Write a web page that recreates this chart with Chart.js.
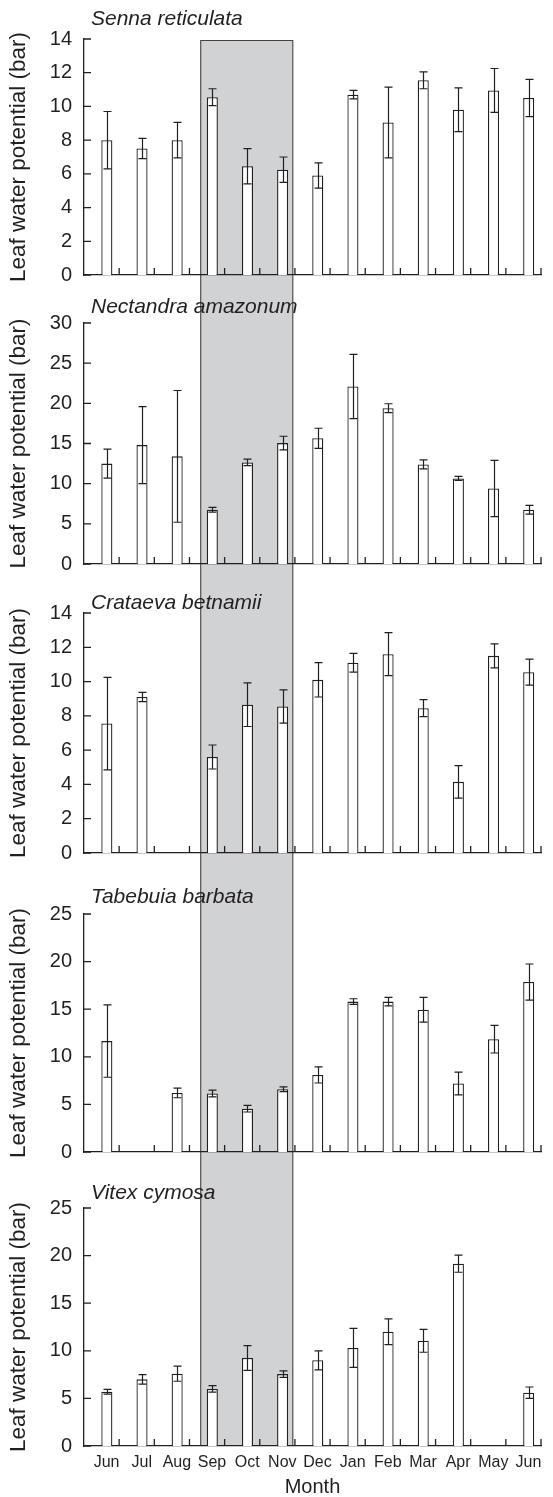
<!DOCTYPE html>
<html>
<head>
<meta charset="utf-8">
<style>
  html, body { margin: 0; padding: 0; background: #fff; }
  #wrap { position: relative; width: 553px; height: 1497px; overflow: hidden; }
  #wrap canvas { position: absolute; left: 0; }
</style>
<script src="https://cdn.jsdelivr.net/npm/chart.js@4/dist/chart.umd.min.js"></script>
</head>
<body>
<div id="wrap"></div>
<script>
// ---- data (leaf water potential, bar; mean and error) ----
const months = ['Jun', 'Jul', 'Aug', 'Sep', 'Oct', 'Nov', 'Dec', 'Jan', 'Feb', 'Mar', 'Apr', 'May', 'Jun'];

const species = ['Senna reticulata', 'Nectandra amazonum', 'Crataeva betnamii', 'Tabebuia barbata', 'Vitex cymosa'];

const sennaMean = [8.0, 7.5, 8.0, 10.55, 6.45, 6.25, 5.9, 10.7, 9.05, 11.55, 9.8, 10.95, 10.5];
const sennaErr  = [1.7, 0.6, 1.05, 0.5, 1.05, 0.75, 0.75, 0.25, 2.1, 0.5, 1.3, 1.3, 1.1];

const nectandraMean = [12.5, 14.8, 13.4, 6.75, 12.65, 15.05, 15.65, 22.1, 19.4, 12.4, 10.65, 9.4, 6.75];
const nectandraErr  = [1.8, 4.8, 8.2, 0.3, 0.4, 0.85, 1.25, 4.0, 0.55, 0.55, 0.25, 3.5, 0.55];

const crataevaMean = [7.55, 9.1, null, 5.6, 8.65, 8.55, 10.1, 11.1, 11.6, 8.45, 4.15, 11.5, 10.55];
const crataevaErr  = [2.7, 0.27, null, 0.7, 1.27, 0.97, 1.0, 0.55, 1.25, 0.5, 0.95, 0.7, 0.76];

const tabebuiaMean = [11.65, null, 6.2, 6.15, 4.55, 6.6, 8.1, 15.8, 15.8, 14.95, 7.2, 11.85, 17.85];
const tabebuiaErr  = [3.8, null, 0.5, 0.35, 0.35, 0.25, 0.85, 0.3, 0.45, 1.3, 1.2, 1.45, 1.9];

const vitexMean = [5.7, 7.0, 7.6, 6.0, 9.25, 7.55, 9.0, 10.3, 12.0, 11.05, 19.15, null, 5.6];
const vitexErr  = [0.25, 0.5, 0.8, 0.35, 1.3, 0.35, 1.0, 2.05, 1.35, 1.2, 0.9, null, 0.6];

const yMax  = [14, 30, 14, 25, 25];
const yStep = [2, 5, 2, 5, 5];

// shaded period
const shadeFrom = 'Sep';
const shadeTo = 'Nov';

const means = [sennaMean, nectandraMean, crataevaMean, tabebuiaMean, vitexMean];
const errs  = [sennaErr, nectandraErr, crataevaErr, tabebuiaErr, vitexErr];

// ---- layout ----
const INK = '#231f20';
const SHADE = '#d1d2d4';
const FONT = "'Liberation Sans', Arial, Helvetica, sans-serif";

// canvas top/height, chart-area paddings, title offset above chart area
const layout = [
  { top: 0,    height: 292, padTop: 39, padBottom: 17, titleDy: -20 },
  { top: 292,  height: 293, padTop: 31, padBottom: 21, titleDy: -16 },
  { top: 585,  height: 285, padTop: 28, padBottom: 17, titleDy: -10 },
  { top: 870,  height: 300, padTop: 44, padBottom: 18, titleDy: -17 },
  { top: 1170, height: 327, padTop: 38, padBottom: 0,  titleDy: -15 }
];

const panelDeco = {
  id: 'panelDeco',
  beforeDraw(chart, args, opts) {
    const { ctx, chartArea } = chart;
    const x = chart.scales.x;
    const w = x.getPixelForValue(1) - x.getPixelForValue(0);
    const bars = chart.getDatasetMeta(1).data;
    const left = bars[months.indexOf(shadeFrom)].x - 0.33 * w;
    const right = bars[months.lastIndexOf(shadeTo)].x + 0.29 * w;
    const top = opts.first ? chartArea.top + 1.5 : 0;
    const bottom = opts.last ? chartArea.bottom : chart.height;
    ctx.save();
    ctx.fillStyle = SHADE;
    ctx.fillRect(left, top, right - left, bottom - top);
    ctx.strokeStyle = '#444';
    ctx.lineWidth = 1.1;
    ctx.beginPath();
    ctx.moveTo(left, bottom);
    ctx.lineTo(left, top);
    if (opts.first) ctx.lineTo(right, top); else ctx.moveTo(right, top);
    ctx.lineTo(right, bottom);
    ctx.stroke();
    ctx.restore();
  },
  afterDatasetsDraw(chart, args, opts) {
    const { ctx } = chart;
    const y = chart.scales.y;
    const meta = chart.getDatasetMeta(1);
    const vals = chart.data.datasets[1].data;
    ctx.save();
    ctx.strokeStyle = INK;
    ctx.lineWidth = 1.2;
    meta.data.forEach((bar, i) => {
      const v = vals[i], e = opts.err[i];
      if (v == null || e == null) return;
      const cx = Math.round(bar.x) + 0.5;
      const yt = y.getPixelForValue(v + e);
      const yb = y.getPixelForValue(v - e);
      ctx.beginPath();
      ctx.moveTo(cx, yt); ctx.lineTo(cx, yb);
      ctx.moveTo(cx - 4, yt); ctx.lineTo(cx + 4, yt);
      ctx.moveTo(cx - 4, yb); ctx.lineTo(cx + 4, yb);
      ctx.stroke();
    });
    ctx.restore();
  },
  afterDraw(chart, args, opts) {
    const { ctx, chartArea } = chart;
    const x = chart.scales.x, y = chart.scales.y;
    const w = x.getPixelForValue(1) - x.getPixelForValue(0);
    ctx.save();
    ctx.strokeStyle = INK;
    ctx.lineWidth = 1.3;
    ctx.beginPath();
    // inward ticks on the y axis
    y.ticks.forEach(t => {
      const py = y.getPixelForValue(t.value);
      ctx.moveTo(chartArea.left, py); ctx.lineTo(chartArea.left + 7, py);
    });
    // inward ticks between months on the x axis
    months.forEach((m, i) => {
      const px = x.getPixelForValue(i) + w / 2;
      ctx.moveTo(px, chartArea.bottom); ctx.lineTo(px, chartArea.bottom - 7);
    });
    ctx.stroke();
    // species name
    ctx.fillStyle = INK;
    ctx.font = 'italic 21px ' + FONT;
    ctx.textBaseline = 'middle';
    ctx.textAlign = 'left';
    ctx.fillText(opts.title, chartArea.left + 7, chartArea.top + opts.titleDy);
    ctx.restore();
  }
};

const wrap = document.getElementById('wrap');

layout.forEach((p, i) => {
  const canvas = document.createElement('canvas');
  canvas.width = 553;
  canvas.height = p.height;
  canvas.style.top = p.top + 'px';
  wrap.appendChild(canvas);
  const first = i === 0;
  const last = i === layout.length - 1;

  new Chart(canvas, {
    type: 'bar',
    data: {
      labels: months,
      datasets: [
        { data: months.map(() => null), backgroundColor: 'rgba(0,0,0,0)', borderWidth: 0 },
        { data: means[i], backgroundColor: '#ffffff', borderColor: INK, borderWidth: 1.3 }
      ]
    },
    options: {
      responsive: false,
      animation: false,
      events: [],
      datasets: { bar: { categoryPercentage: 0.6, barPercentage: 1.05 } },
      layout: { padding: { top: p.padTop, right: 12, bottom: p.padBottom, left: 0 } },
      plugins: {
        legend: { display: false },
        tooltip: { enabled: false },
        panelDeco: { err: errs[i], title: species[i], titleDy: p.titleDy, first, last }
      },
      scales: {
        x: {
          offset: true,
          grid: { display: false, drawTicks: false, tickLength: 0 },
          border: { display: true, color: INK, width: 1.3 },
          ticks: {
            display: last, autoSkip: false, maxRotation: 0,
            font: { family: FONT, size: 16 }, color: INK, padding: 7, labelOffset: 5
          },
          title: {
            display: last, text: 'Month', color: INK, padding: 0,
            font: { family: FONT, size: 20, lineHeight: 1 }
          },
          afterFit: s => { s.height = last ? 51 : 0; s.paddingTop = 0; s.paddingBottom = 0; }
        },
        y: {
          min: 0, max: yMax[i],
          grid: { display: false, drawTicks: false, tickLength: 0 },
          border: { display: true, color: INK, width: 1.3 },
          ticks: { stepSize: yStep[i], font: { family: FONT, size: 20 }, color: INK, padding: 12 },
          title: {
            display: true, text: 'Leaf water potential (bar)', color: INK,
            padding: { top: 5, bottom: 0 }, font: { family: FONT, size: 22.5 }
          },
          afterFit: s => { s.width = 84; s.paddingTop = 0; s.paddingBottom = 0; }
        }
      }
    },
    plugins: [panelDeco]
  });
});
</script>
</body>
</html>
